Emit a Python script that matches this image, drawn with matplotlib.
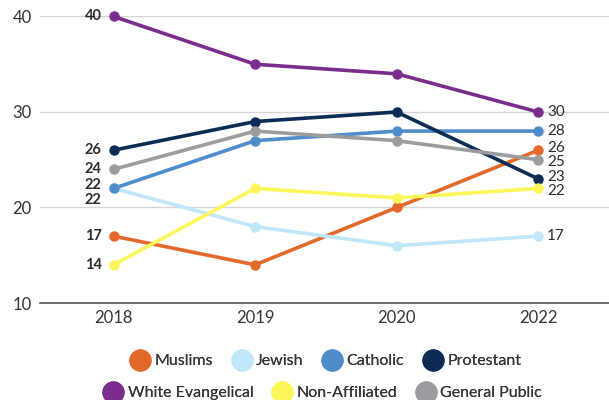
import matplotlib
matplotlib.use("Agg")
import matplotlib.pyplot as plt
from matplotlib.lines import Line2D

plt.rcParams["font.family"] = ["Lato", "DejaVu Sans"]

years = ["2018", "2019", "2020", "2022"]
series_names = ["Muslims", "Jewish", "Catholic", "Protestant",
                "White Evangelical", "Non-Affiliated", "General Public"]
muslims = [17, 14, 20, 26]
jewish = [22, 18, 16, 17]
catholic = [22, 27, 28, 28]
protestant = [26, 29, 30, 23]
white_evangelical = [40, 35, 34, 30]
non_affiliated = [14, 22, 21, 22]
general_public = [24, 28, 27, 25]
colors = ["#E2692A", "#BFE6F9", "#4F8CCA", "#0C2C55",
          "#7A2D8C", "#FBF75A", "#9B9C9F"]

values = [muslims, jewish, catholic, protestant,
          white_evangelical, non_affiliated, general_public]
# draw order: back to front
draw_order = [1, 5, 0, 6, 2, 3, 4]

# label nudges in px, positive = up (left labels, right labels)
left_nudge = {1: -12, 2: 3}
right_nudge = {0: 2.5, 6: -2.5, 3: 1.5, 5: -3}

fig = plt.figure(figsize=(6.09, 4.0), dpi=100)
ax = fig.add_axes([40 / 609, 1 - 303 / 400, 1 - 40 / 609, (303 - 16.5) / 400])

x = list(range(len(years)))
for i in draw_order:
    ax.plot(x, values[i], color=colors[i], lw=2.6, marker="o", ms=6.5,
            solid_capstyle="round", clip_on=False, zorder=3 + i * 0.1)

for i in range(len(values)):
    ax.annotate(str(values[i][0]), (0, values[i][0]),
                xytext=(-12, left_nudge.get(i, 0)), textcoords="offset pixels",
                ha="right", va="center", fontsize=10.5, fontweight="bold",
                color="#2b2b2b")
    ax.annotate(str(values[i][-1]), (3, values[i][-1]),
                xytext=(9, right_nudge.get(i, 0)), textcoords="offset pixels",
                ha="left", va="center", fontsize=11, color="#2b2b2b")

ax.set_xlim(-0.52, 3.5)
ax.set_ylim(10, 40)
ax.set_xticks(x)
ax.set_xticklabels(years)
ax.set_yticks([10, 20, 30, 40])
ax.tick_params(axis="both", length=0, labelsize=12, colors="#333333")
ax.tick_params(axis="x", pad=5)
ax.tick_params(axis="y", pad=6)
ax.grid(axis="y", color="#d4d4d4", lw=1)
ax.set_axisbelow(True)
for side in ["top", "right", "left"]:
    ax.spines[side].set_visible(False)
ax.spines["bottom"].set_color("#555555")
ax.spines["bottom"].set_linewidth(1.2)


def legend_row(idx, xcenter, ycenter):
    handles = [Line2D([], [], ls="none", marker="o", ms=16,
                      markerfacecolor=colors[i], markeredgecolor="none")
               for i in idx]
    leg = fig.legend(handles, [series_names[i] for i in idx], ncol=len(idx),
                     loc="center", bbox_to_anchor=(xcenter / 609, 1 - ycenter / 400),
                     frameon=False, fontsize=11.5, handletextpad=0.3,
                     columnspacing=1.2, handlelength=1.2, borderpad=0)
    for t in leg.get_texts():
        t.set_color("#333333")
    fig.add_artist(leg)


legend_row([0, 1, 2, 3], 326, 361)
legend_row([4, 5, 6], 323, 393)

fig.savefig("out.png", dpi=100)
